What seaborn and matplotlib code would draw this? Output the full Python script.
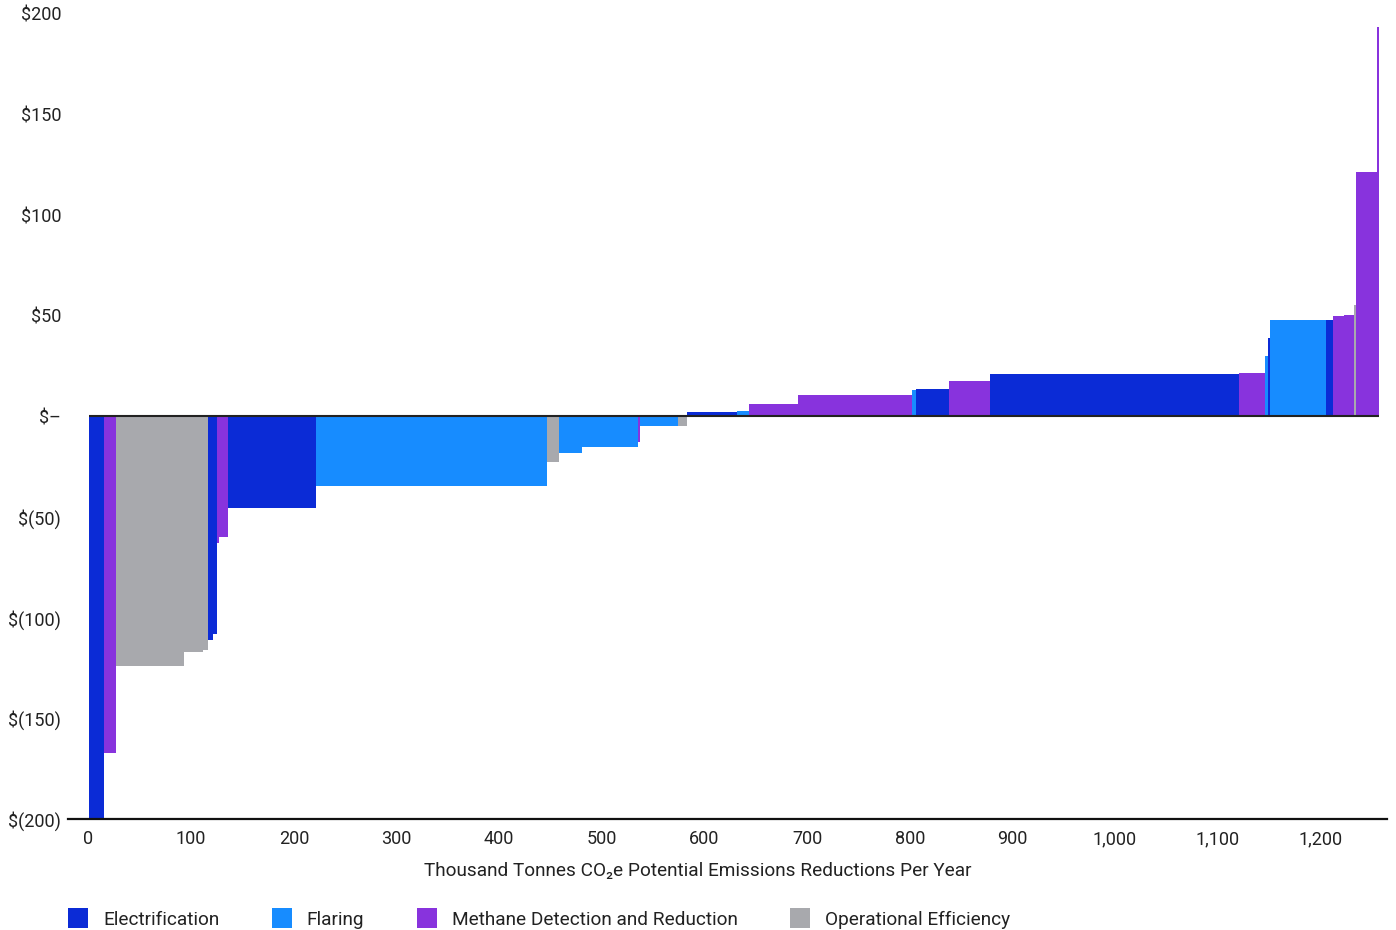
import numpy as np
import pandas as pd
import matplotlib
matplotlib.use("Agg")
import matplotlib.pyplot as plt
from matplotlib.lines import Line2D
from matplotlib.ticker import FuncFormatter
import seaborn as sns

# ---- data ----
categories = ["Electrification", "Flaring", "Methane Detection and Reduction", "Operational Efficiency"]
colors = ["#0B2BD6", "#178CFF", "#8833DD", "#A8A9AD"]

bar_category = [
    "Electrification", "Methane Detection and Reduction", "Operational Efficiency", "Operational Efficiency",
    "Operational Efficiency", "Electrification", "Electrification", "Methane Detection and Reduction",
    "Methane Detection and Reduction", "Electrification", "Flaring", "Operational Efficiency",
    "Flaring", "Flaring", "Methane Detection and Reduction", "Flaring",
    "Operational Efficiency", "Electrification", "Flaring", "Methane Detection and Reduction",
    "Methane Detection and Reduction", "Flaring", "Electrification", "Methane Detection and Reduction",
    "Electrification", "Methane Detection and Reduction", "Flaring", "Electrification",
    "Flaring", "Electrification", "Methane Detection and Reduction", "Methane Detection and Reduction",
    "Operational Efficiency", "Methane Detection and Reduction", "Methane Detection and Reduction",
]
bar_width = [
    15.3, 11.0, 66.3, 18.5, 4.9, 4.9, 3.9, 1.9, 8.8, 85.8, 225.5, 11.4,
    22.4, 54.6, 1.9, 37.1, 8.8, 48.7, 11.7, 47.8, 111.1, 3.9, 32.2, 39.9,
    242.8, 25.3, 3.0, 1.9, 54.6, 6.8, 10.7, 9.8, 2.0, 20.4, 2.0,
]
bar_cost = [
    -200, -167, -124, -117, -116, -111, -108, -63, -60, -45.5, -34.5, -22.5,
    -18, -15, -12.5, -4.5, -4.5, 2.2, 2.8, 6.2, 10.7, 13.2, 13.7, 17.7,
    21.2, 21.7, 30.2, 39.1, 48.1, 48.1, 50.1, 50.6, 55.4, 121.7, 193.5,
]

x_ticks = list(range(0, 1201, 100))
y_ticks = [-200, -150, -100, -50, 0, 50, 100, 150, 200]
x_label = "Thousand Tonnes CO₂e Potential Emissions Reductions Per Year"

df = pd.DataFrame({"category": bar_category, "width": bar_width, "cost": bar_cost})
df["left"] = df["width"].cumsum() - df["width"]
total = df["width"].sum()

# ---- style ----
sns.set_theme(style="white")
plt.rcParams["font.family"] = ["Roboto", "DejaVu Sans"]
palette = dict(zip(categories, colors))

fig = plt.figure(figsize=(13.96, 9.30), dpi=100)
ax = fig.add_axes([0.0487, 0.1194, 0.9449, 0.8656])

for _, r in df.iterrows():
    ax.bar(r["left"], r["cost"], width=r["width"], align="edge",
           color=palette[r["category"]], linewidth=0, zorder=2)

ax.hlines(0, 0, total, color="#222222", linewidth=1.5, zorder=3)

ax.set_xlim(-20, 1265)
ax.set_ylim(-200, 200)
ax.set_xticks(x_ticks)
ax.set_yticks(y_ticks)
ax.xaxis.set_major_formatter(FuncFormatter(lambda v, p: f"{int(v):,}"))


def money(v, p):
    v = int(round(v))
    if v == 0:
        return "$–"
    if v < 0:
        return f"$({-v})"
    return f"${v}"


ax.yaxis.set_major_formatter(FuncFormatter(money))
ax.tick_params(axis="both", length=0, labelsize=13, colors="#222222")
ax.tick_params(axis="y", pad=5)
ax.tick_params(axis="x", pad=8)

for s in ["top", "right", "left"]:
    ax.spines[s].set_visible(False)
ax.spines["bottom"].set_color("#111111")
ax.spines["bottom"].set_linewidth(1.6)

ax.set_xlabel(x_label, fontsize=13.7, color="#222222")
ax.xaxis.label.set_va("center")
ax.xaxis.set_label_coords(0.4776, -0.0646)

handles = [Line2D([0], [0], marker="s", linestyle="", markersize=14,
                  markerfacecolor=c, markeredgewidth=0) for c in colors]
fig.legend(handles, categories, loc="center left", bbox_to_anchor=(0.037, 0.0108),
           ncol=4, frameon=False, fontsize=13.7, handlelength=1.0,
           handletextpad=0.8, columnspacing=2.8, labelcolor="#222222")

fig.savefig("out.png", dpi=100, facecolor="white")
